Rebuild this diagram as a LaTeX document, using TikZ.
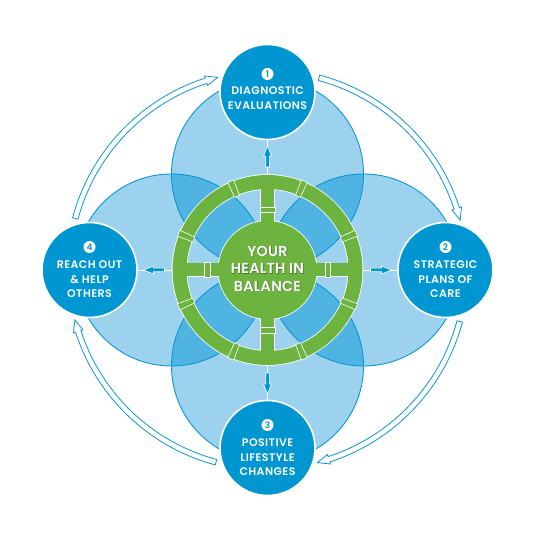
\documentclass[tikz,border=0pt]{standalone}
\usepackage{fontspec}
\setmainfont{Poppins}[BoldFont={Poppins SemiBold}]
\newfontfamily\trackfont{Poppins}[BoldFont={Poppins SemiBold}, LetterSpace=4]
\newfontfamily\hubfont{Poppins}[BoldFont={Poppins SemiBold}, LetterSpace=1]
\usetikzlibrary{calc}
\definecolor{lightb}{HTML}{9DD2EE}
\definecolor{midb}{HTML}{4FB4E1}
\definecolor{darkb}{HTML}{0096D2}
\definecolor{lineb}{HTML}{0A96D4}
\definecolor{wgreen}{HTML}{6DB33F}
\tikzset{
  circline/.style={draw=lineb, line width=0.9pt},
  stage/.style={circle, fill=darkb, draw=white, line width=1.6pt, minimum size=95pt, inner sep=0pt},
  numc/.style={circle, fill=white, inner sep=0pt, minimum size=12pt, text=darkb, font=\fontsize{9}{9}\selectfont\bfseries},
  stagetext/.style={align=center, text=white, inner sep=0pt, font=\trackfont\fontsize{11}{14.5}\selectfont\bfseries},
  hubtext/.style={align=center, text=white, inner sep=0pt, font=\hubfont\fontsize{14.5}{17.5}\selectfont\bfseries},
  hubshadow/.style={hubtext, text=black, opacity=0.35},
  bigarrow/.style={fill=white, draw=lineb, line width=0.8pt, line join=miter},
  smallarrow/.style={fill=darkb, draw=white, line width=0.6pt},
  guide/.style={draw=white, line width=0.7pt},
  collar/.style={fill=wgreen, draw=white, line width=0.6pt},
}
\newcommand\hollowarc[1]{%
  \draw[bigarrow] ($(C)+(#1:201.8)$) arc[start angle=#1, end angle=#1-57, radius=201.8]
    -- ($(C)+(#1-57:204)$) -- ($(C)+(#1-60.5:199)$) -- ($(C)+(#1-57:194)$)
    -- ($(C)+(#1-57:196.2)$) arc[start angle=#1-57, end angle=#1, radius=196.2] -- cycle;}
\newcommand\blockarr[1]{%
  \begin{scope}[shift={(C)}, rotate=#1]
    \draw[smallarrow] (103,-1.8) -- (114,-1.8) -- (114,-4) -- (124,0) -- (114,4) -- (114,1.8) -- (103,1.8) -- cycle;
  \end{scope}}
\begin{document}
\begin{tikzpicture}[x=1pt,y=1pt]
\useasboundingbox (0,0) rectangle (533,534);
\coordinate (C) at (267.5,264);
\coordinate (cT) at (267.5,360);
\coordinate (cB) at (267.5,168);
\coordinate (cL) at (171.5,264);
\coordinate (cR) at (363.5,264);
% light circles
\foreach \c in {cT,cB,cL,cR} \fill[lightb] (\c) circle[radius=96];
\foreach \a/\b in {cT/cL,cT/cR,cB/cL,cB/cR}{
  \begin{scope}
    \clip (\a) circle[radius=96];
    \fill[midb] (\b) circle[radius=96];
  \end{scope}}
\foreach \c in {cT,cB,cL,cR} \draw[circline] (\c) circle[radius=96];
% big cycle arrows
\hollowarc{165}
\hollowarc{75}
\hollowarc{-15}
\hollowarc{-105}
% stage nodes
\node[stage] (n1) at (267.5,442) {};
\node[stage] (n2) at (445.5,264) {};
\node[stage] (n3) at (267.5,86) {};
\node[stage] (n4) at (89.5,264) {};
\node[circle, minimum size=190pt, inner sep=0pt] (ring) at (C) {};
% guide lines
\draw[guide] (ring.north) -- (n1.south);
\draw[guide] (ring.east) -- (n2.west);
\draw[guide] (ring.south) -- (n3.north);
\draw[guide] (ring.west) -- (n4.east);
% wheel
\begin{scope}[shift={(C)}]
  \draw[white, line width=15.6pt] (0,0) circle[radius=88];
  \draw[white, line width=14.6pt] (-88,0) -- (88,0) (0,-88) -- (0,88);
  \fill[white] (0,0) circle[radius=49.8];
  \draw[wgreen, line width=14pt] (0,0) circle[radius=88];
  \draw[wgreen, line width=13pt] (-88,0) -- (88,0) (0,-88) -- (0,88);
  \fill[wgreen] (0,0) circle[radius=49];
  \foreach \a in {22.5,67.5,...,337.5}
    \draw[collar] (\a-1.9:79.8) arc[start angle=\a-1.9, end angle=\a+1.9, radius=79.8]
      -- (\a+1.9:96.2) arc[start angle=\a+1.9, end angle=\a-1.9, radius=96.2] -- cycle;
  \foreach \r in {0,90,180,270}
    \draw[collar, rotate=\r] (57.5,-7.6) rectangle (63,7.6);
\end{scope}
\blockarr{90}
\blockarr{0}
\blockarr{270}
\blockarr{180}
% hub text
\node[hubshadow] (hs) at ($(C)+(0.7,0.8)$) {YOUR\\HEALTH IN\\BALANCE};
\node[hubtext] (ht) at ($(C)+(0,1.5)$) {YOUR\\HEALTH IN\\BALANCE};
% stage texts
\node[numc] (k1) at ($(n1)+(0,18)$) {1};
\node[stagetext] (t1) at ($(n1)+(0,-6)$) {DIAGNOSTIC\\EVALUATIONS};
\node[numc] (k2) at ($(n2)+(0,23)$) {2};
\node[stagetext] (t2) at ($(n2)+(0,-9.5)$) {STRATEGIC\\PLANS OF\\CARE};
\node[numc] (k3) at ($(n3)+(0,23)$) {3};
\node[stagetext] (t3) at ($(n3)+(0,-9.5)$) {POSITIVE\\LIFESTYLE\\CHANGES};
\node[numc] (k4) at ($(n4)+(0,23)$) {4};
\node[stagetext] (t4) at ($(n4)+(0,-9.5)$) {REACH OUT\\\& HELP\\OTHERS};
\end{tikzpicture}
\end{document}
